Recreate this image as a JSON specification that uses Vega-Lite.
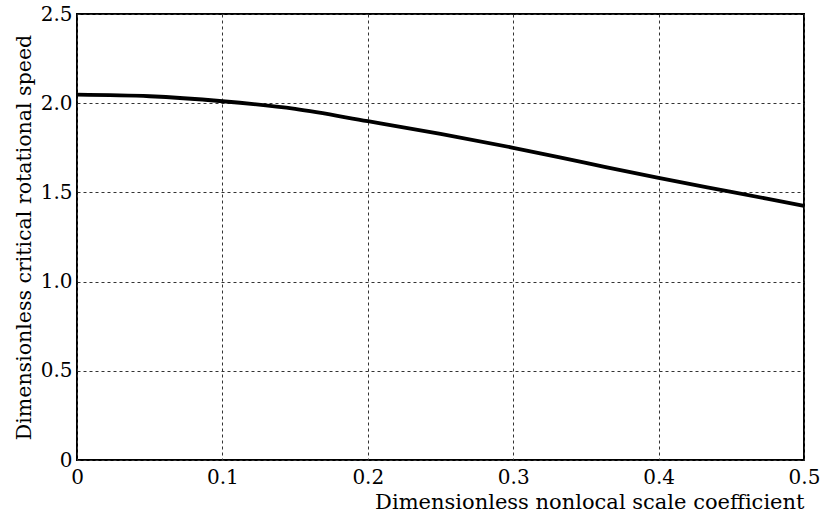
{
  "$schema": "https://vega.github.io/schema/vega-lite/v6.json",
  "width": 727,
  "height": 446,
  "autosize": {"type": "none"},
  "padding": {"left": 77, "top": 14, "right": 17, "bottom": 55},
  "background": "white",
  "config": {
    "font": "DejaVu Serif",
    "view": {"stroke": "black", "strokeWidth": 2},
    "axis": {
      "labelFont": "DejaVu Serif",
      "titleFont": "DejaVu Serif",
      "labelFontSize": 20,
      "titleFontSize": 20.5,
      "titleFontWeight": "normal",
      "labelColor": "black",
      "titleColor": "black",
      "domain": false,
      "ticks": false,
      "grid": true,
      "gridColor": "#333333",
      "gridDash": [3, 3],
      "gridWidth": 1,
      "gridOpacity": 1
    }
  },
  "data": {
    "values": [
      {"k": 0.0, "w": 2.048},
      {"k": 0.05, "w": 2.039},
      {"k": 0.1, "w": 2.011},
      {"k": 0.15, "w": 1.968},
      {"k": 0.2, "w": 1.899},
      {"k": 0.25, "w": 1.828},
      {"k": 0.3, "w": 1.75},
      {"k": 0.35, "w": 1.665},
      {"k": 0.4, "w": 1.581},
      {"k": 0.45, "w": 1.503},
      {"k": 0.5, "w": 1.425}
    ]
  },
  "mark": {"type": "line", "color": "black", "strokeWidth": 3.8, "interpolate": "monotone"},
  "encoding": {
    "x": {
      "field": "k",
      "type": "quantitative",
      "scale": {"domain": [0, 0.5], "nice": false},
      "axis": {
        "values": [0, 0.1, 0.2, 0.3, 0.4, 0.5],
        "labelExpr": "datum.value == 0 ? '0' : format(datum.value, '.1f')",
        "labelPadding": 7,
        "labelFlush": false,
        "title": "Dimensionless nonlocal scale coefficient",
        "titleFontSize": 21,
        "titleAnchor": "end",
        "titlePadding": 4
      }
    },
    "y": {
      "field": "w",
      "type": "quantitative",
      "scale": {"domain": [0, 2.5], "nice": false},
      "axis": {
        "values": [0, 0.5, 1.0, 1.5, 2.0, 2.5],
        "labelExpr": "datum.value == 0 ? '0' : format(datum.value, '.1f')",
        "labelPadding": 5,
        "labelFlush": false,
        "title": "Dimensionless critical rotational speed",
        "titlePadding": 6
      }
    }
  }
}
